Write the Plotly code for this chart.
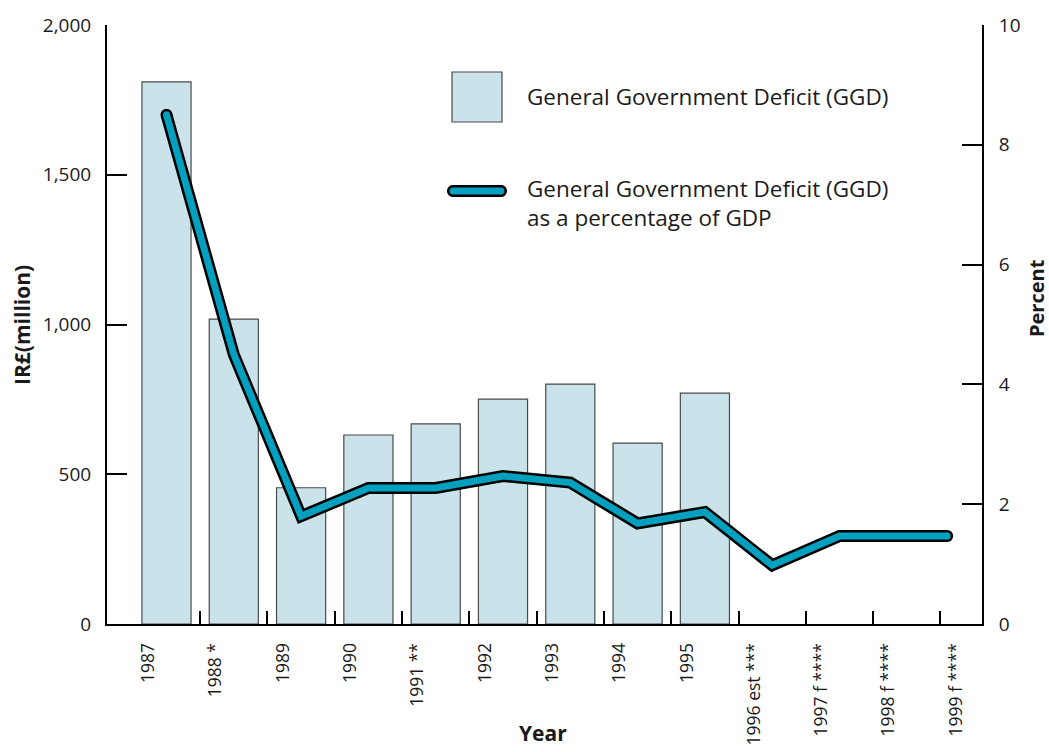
import plotly.graph_objects as go

# ---- data ----
years = [1987, 1988, 1989, 1990, 1991, 1992, 1993, 1994, 1995, 1996, 1997, 1998, 1999]
year_labels = ["1987", "1988 *", "1989", "1990", "1991 **", "1992", "1993", "1994",
               "1995", "1996 est ***", "1997 f ****", "1998 f ****", "1999 f ****"]
bar_years = [1987, 1988, 1989, 1990, 1991, 1992, 1993, 1994, 1995]
ggd_million = [1810, 1018, 455, 631, 668, 751, 801, 604, 771]
line_x = [1987, 1988, 1989, 1990, 1991, 1992, 1993, 1994, 1995, 1996, 1997, 1998, 1998.6]
ggd_pct_gdp = [8.5, 4.5, 1.8, 2.27, 2.27, 2.47, 2.36, 1.68, 1.87, 0.98, 1.47, 1.47, 1.47]
left_ticks = [0, 500, 1000, 1500, 2000]
right_ticks = [0, 2, 4, 6, 8, 10]

W, H = 1049, 752
L, R, T, B = 107, 982, 25, 624   # plot area in pixels

FONT = "Open Sans"
BAR_FILL = "#cae3ea"
BAR_LINE = "#4a4a4a"
TEAL = "#00a0be"
TXT = "#1a1a1a"

def px(x):
    return (x - L) / (R - L)

def py(y):
    return (B - y) / (B - T)

fig = go.Figure()

fig.add_trace(go.Bar(
    x=bar_years, y=ggd_million, width=0.73,
    marker=dict(color=BAR_FILL, line=dict(color=BAR_LINE, width=1.2)),
    showlegend=False, hoverinfo="x+y"))

# outlined line: black under teal
fig.add_trace(go.Scatter(x=line_x, y=ggd_pct_gdp, yaxis="y2", mode="lines",
                         line=dict(color="black", width=12), showlegend=False))
fig.add_trace(go.Scatter(x=[line_x[0], line_x[-1]], y=[ggd_pct_gdp[0], ggd_pct_gdp[-1]],
                         yaxis="y2", mode="markers",
                         marker=dict(color="black", size=12, line=dict(width=0)),
                         showlegend=False, hoverinfo="skip"))
fig.add_trace(go.Scatter(x=line_x, y=ggd_pct_gdp, yaxis="y2", mode="lines",
                         line=dict(color=TEAL, width=7), showlegend=False))
fig.add_trace(go.Scatter(x=[line_x[0], line_x[-1]], y=[ggd_pct_gdp[0], ggd_pct_gdp[-1]],
                         yaxis="y2", mode="markers",
                         marker=dict(color=TEAL, size=7, line=dict(width=0)),
                         showlegend=False, hoverinfo="skip"))

step = years[1] - years[0]
x0 = years[0] - step * (166.5 - L) / 67.3
x1 = years[0] + step * (R - 166.5) / 67.3

fig.update_layout(
    width=W, height=H,
    margin=dict(l=L, r=W - R, t=T, b=H - B, pad=0, autoexpand=False),
    paper_bgcolor="white", plot_bgcolor="white",
    font=dict(family=FONT, size=19, color=TXT),
    bargap=0.27,
    xaxis=dict(
        range=[x0, x1], tickmode="array", tickvals=years, ticktext=year_labels,
        tickangle=-90, ticks="", showline=True, linecolor="black", linewidth=2,
        showgrid=False, zeroline=False, ticklabelstandoff=10, ticklabelshift=-18,
        tickfont=dict(size=17.5), automargin=False,
        minor=dict(tickmode="array", tickvals=[y + 0.5 for y in years[:-1]],
                   ticks="inside", ticklen=13, tickwidth=2, tickcolor="black",
                   showgrid=False),
    ),
    yaxis=dict(
        range=[0, 2000], tickvals=left_ticks, tickformat=",",
        ticks="inside", ticklen=20, tickwidth=2, tickcolor="black",
        showline=True, linecolor="black", linewidth=2, showgrid=False,
        zeroline=False, ticklabelstandoff=10, tickfont=dict(size=19), automargin=False,
    ),
    yaxis2=dict(
        range=[0, 10], tickvals=right_ticks, overlaying="y", side="right",
        ticks="inside", ticklen=20, tickwidth=2, tickcolor="black",
        showline=True, linecolor="black", linewidth=2, showgrid=False,
        zeroline=False, ticklabelstandoff=11, tickfont=dict(size=19), automargin=False,
    ),
    showlegend=False,
)

# ---- axis titles ----
fig.add_annotation(text="<b>IR£(million)</b>", x=px(22), y=py(325), xref="paper", yref="paper",
                   xanchor="center", yanchor="middle",
                   textangle=-90, showarrow=False, font=dict(size=21, color=TXT))
fig.add_annotation(text="<b>Percent</b>", x=px(1036), y=py(298), xref="paper", yref="paper",
                   xanchor="center", yanchor="middle",
                   textangle=-90, showarrow=False, font=dict(size=20, color=TXT))
fig.add_annotation(text="<b>Year</b>", x=px(543), y=py(733), xref="paper", yref="paper",
                   xanchor="center", yanchor="middle",
                   showarrow=False, font=dict(size=21, color=TXT))

# ---- custom legend ----
fig.add_shape(type="rect", xref="paper", yref="paper",
              x0=px(452), x1=px(502), y0=py(122), y1=py(72),
              fillcolor=BAR_FILL, line=dict(color=BAR_LINE, width=1.2))

def capsule(xa, xb, yc, r):
    k = 0.5523
    pts = lambda x, y: f"{px(x):.5f},{py(y):.5f}"
    return (f"M {pts(xa, yc - r)} L {pts(xb, yc - r)} "
            f"C {pts(xb + k * r, yc - r)} {pts(xb + r, yc - k * r)} {pts(xb + r, yc)} "
            f"C {pts(xb + r, yc + k * r)} {pts(xb + k * r, yc + r)} {pts(xb, yc + r)} "
            f"L {pts(xa, yc + r)} "
            f"C {pts(xa - k * r, yc + r)} {pts(xa - r, yc + k * r)} {pts(xa - r, yc)} "
            f"C {pts(xa - r, yc - k * r)} {pts(xa - k * r, yc - r)} {pts(xa, yc - r)} Z")

fig.add_shape(type="path", xref="paper", yref="paper", path=capsule(453, 501, 191, 6),
              fillcolor="black", line=dict(width=0))
fig.add_shape(type="path", xref="paper", yref="paper", path=capsule(453, 501, 191, 3.5),
              fillcolor=TEAL, line=dict(width=0))

fig.add_annotation(text="General Government Deficit (GGD)", x=px(525), y=py(97),
                   xref="paper", yref="paper", xanchor="left", yanchor="middle",
                   showarrow=False, font=dict(size=22.5, color=TXT))
fig.add_annotation(text="General Government Deficit (GGD)<br>as a percentage of GDP",
                   x=px(525), y=py(203), align="left",
                   xref="paper", yref="paper", xanchor="left", yanchor="middle",
                   showarrow=False, font=dict(size=22.5, color=TXT))

fig.write_html("out.html")
